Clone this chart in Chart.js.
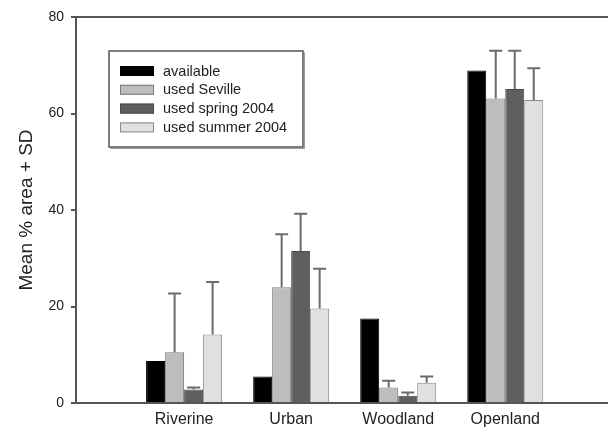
<!DOCTYPE html>
<html>
<head>
<meta charset="utf-8">
<script src="https://cdn.jsdelivr.net/npm/chart.js@4"></script>
<style>
  html, body { margin: 0; padding: 0; background: #fff; overflow: hidden; }
  #wrap { width: 608px; height: 428px; position: relative; }
</style>
</head>
<body>
<div id="wrap"><canvas id="c" width="608" height="428"></canvas></div>
<script>
const categories = ['Riverine', 'Urban', 'Woodland', 'Openland'];
const yTicks = [0, 20, 40, 60, 80];

const available      = [8.7, 5.5, 17.5, 68.9];
const usedSeville    = [10.5, 24.0, 3.2, 63.1];
const usedSpring2004 = [2.8, 31.5, 1.5, 65.1];
const usedSummer2004 = [14.2, 19.6, 4.2, 62.8];

const sdSeville    = [12.2, 11.0, 1.4, 9.9];
const sdSpring2004 = [0.4, 7.7, 0.7, 7.9];
const sdSummer2004 = [10.9, 8.2, 1.3, 6.6];

const seriesNames = ['available', 'used Seville', 'used spring 2004', 'used summer 2004'];

const FONT = "'Liberation Sans', Arial, Helvetica, sans-serif";
const AXIS = '#555555';

const toPoints = a => a.map((v, i) => ({ x: i + 1, y: v }));

const errorBars = {
  id: 'errorBars',
  afterDatasetsDraw(chart) {
    const ctx = chart.ctx, y = chart.scales.y;
    chart.data.datasets.forEach((ds, i) => {
      if (!ds.errors) return;
      const meta = chart.getDatasetMeta(i);
      meta.data.forEach((bar, j) => {
        const v = ds.data[j].y, e = ds.errors[j];
        if (v == null || e == null) return;
        const yTop = y.getPixelForValue(v + e);
        ctx.save();
        ctx.strokeStyle = '#6b6b6b';
        ctx.lineWidth = 2;
        ctx.beginPath();
        ctx.moveTo(bar.x, bar.y);
        ctx.lineTo(bar.x, yTop);
        ctx.moveTo(bar.x - 6.5, yTop);
        ctx.lineTo(bar.x + 6.5, yTop);
        ctx.stroke();
        ctx.restore();
      });
    });
  }
};

const boxLegend = {
  id: 'boxLegend',
  afterDraw(chart) {
    const ctx = chart.ctx;
    const L = 109, T = 51, W = 194, H = 96;
    ctx.save();
    ctx.strokeStyle = '#9a9a9a';
    ctx.lineWidth = 1;
    ctx.beginPath();
    ctx.moveTo(L + 1.5, T + H + 1.5);
    ctx.lineTo(L + W + 1.5, T + H + 1.5);
    ctx.lineTo(L + W + 1.5, T + 1.5);
    ctx.stroke();
    ctx.fillStyle = '#fff';
    ctx.fillRect(L, T, W, H);
    ctx.strokeStyle = '#555';
    ctx.lineWidth = 1.5;
    ctx.strokeRect(L, T, W, H);
    ctx.font = '14.5px ' + FONT;
    ctx.textBaseline = 'middle';
    ctx.textAlign = 'left';
    chart.data.datasets.forEach((ds, i) => {
      const cy = 71 + i * 18.8;
      ctx.fillStyle = ds.backgroundColor;
      ctx.fillRect(120, cy - 5, 34, 10);
      ctx.strokeStyle = ds.borderColor;
      ctx.lineWidth = 1;
      ctx.strokeRect(120.5, cy - 4.5, 33, 9);
      ctx.fillStyle = '#222';
      ctx.fillText(ds.label, 163, cy + 0.5);
    });
    ctx.restore();
  }
};

const fills   = ['#000000', '#bdbdbd', '#5f5f5f', '#e0e0e0'];
const borders = ['#000000', '#7a7a7a', '#4a4a4a', '#8a8a8a'];
const values  = [available, usedSeville, usedSpring2004, usedSummer2004];
const errors  = [null, sdSeville, sdSpring2004, sdSummer2004];

const datasets = values.map((v, i) => ({
  label: seriesNames[i],
  data: toPoints(v),
  errors: errors[i],
  backgroundColor: fills[i],
  borderColor: borders[i],
  borderWidth: 1,
  borderSkipped: 'bottom',
  categoryPercentage: 0.71,
  barPercentage: 1.0
}));

new Chart(document.getElementById('c'), {
  type: 'bar',
  data: { datasets },
  options: {
    responsive: false,
    animation: false,
    devicePixelRatio: 1,
    layout: { padding: { left: 0, top: 17, right: 0, bottom: 0 } },
    plugins: { legend: { display: false }, tooltip: { enabled: false } },
    scales: {
      x: {
        type: 'linear',
        min: -0.01, max: 4.96,
        offset: false,
        afterBuildTicks: s => { s.ticks = categories.map((c, i) => ({ value: i + 1 })); },
        grid: { display: false, drawTicks: false },
        border: { display: true, color: AXIS, width: 2 },
        ticks: {
          color: '#222', font: { family: FONT, size: 16 }, padding: 7,
          autoSkip: false, maxRotation: 0,
          callback: v => categories[Math.round(v) - 1] || ''
        },
        afterFit: s => { s.height = 25; }
      },
      y: {
        min: 0, max: 80,
        afterBuildTicks: s => { s.ticks = yTicks.map(v => ({ value: v })); },
        grid: {
          drawTicks: true, tickLength: 5, tickColor: AXIS, tickWidth: 2,
          color: c => (c.tick && c.tick.value === 80) ? AXIS : 'rgba(0,0,0,0)',
          lineWidth: 2
        },
        border: { display: true, color: AXIS, width: 2 },
        ticks: { color: '#222', font: { family: FONT, size: 14 }, padding: 7 },
        title: {
          display: true, text: 'Mean % area + SD', color: '#222',
          font: { family: FONT, size: 19 }, padding: { top: 15, bottom: 0 }
        },
        afterFit: s => { s.width = 76; }
      }
    }
  },
  plugins: [errorBars, boxLegend]
});
</script>
</body>
</html>
